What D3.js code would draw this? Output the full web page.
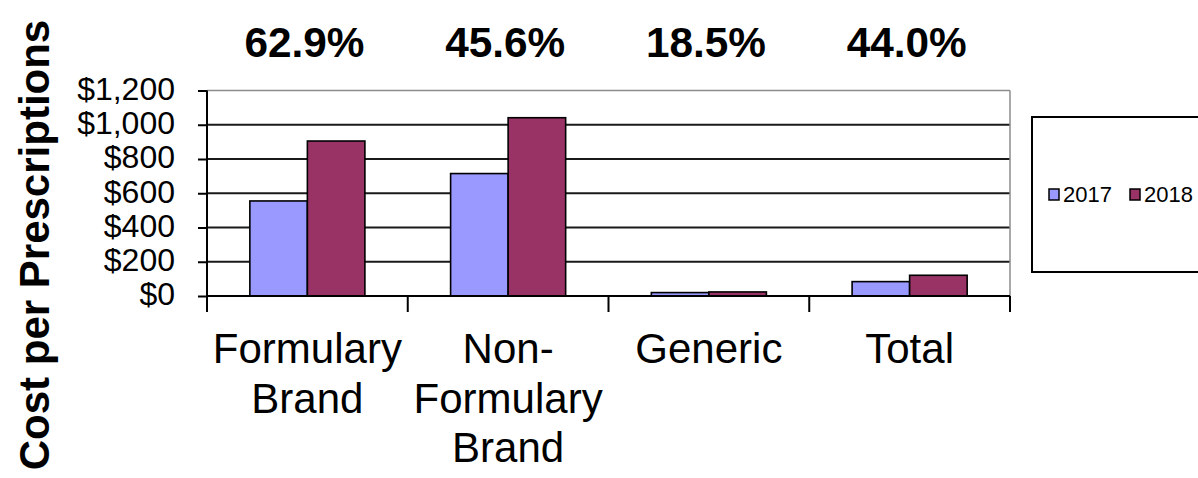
<!DOCTYPE html>
<html><head><meta charset="utf-8">
<script src="https://cdn.jsdelivr.net/npm/d3@7"></script>
<style>html,body{margin:0;padding:0;background:#fff;} svg{display:block;font-family:"Liberation Sans",Arial,sans-serif;}</style>
</head><body>
<svg id="c" width="1198" height="478"></svg>
<script>
const categories = [["Formulary","Brand"],["Non-","Formulary","Brand"],["Generic"],["Total"]];
const categoryKeys = ["Formulary Brand","Non-Formulary Brand","Generic","Total"];
const series = ["2017","2018"];
const values2017 = [555, 715, 20, 84];
const values2018 = [905, 1041, 23.7, 121];
const pctLabels = ["62.9%","45.6%","18.5%","44.0%"];
const yTicks = [0,200,400,600,800,1000,1200];
const colors = ["#9999FF","#993366"];
const yTitle = "Cost per Prescriptions";

const svg = d3.select("#c");
const L=207, R=1010, T=90.5, B=296;
const x0 = d3.scaleBand().domain(categoryKeys).range([L,R]);
const x1 = d3.scaleBand().domain(series).range([0,x0.bandwidth()]).paddingInner(0).paddingOuter(0.745);
const y = d3.scaleLinear().domain([0,1200]).range([B,T]);
const fmt = v => "$" + d3.format(",")(v);

// gridlines
svg.append("g").selectAll("line").data(yTicks.filter(v=>v>0 && v<1200)).join("line")
  .attr("x1",L).attr("x2",R).attr("y1",d=>y(d)).attr("y2",d=>y(d))
  .attr("stroke","#1a1a1a").attr("stroke-width",2);
// plot border top/right (gray)
svg.append("line").attr("x1",L).attr("x2",R).attr("y1",y(1200)).attr("y2",y(1200)).attr("stroke","#8c8c8c").attr("stroke-width",1.5);
svg.append("line").attr("x1",R).attr("x2",R).attr("y1",y(1200)).attr("y2",B).attr("stroke","#8c8c8c").attr("stroke-width",1.5);

// bars
const data = categoryKeys.map((c,i)=>({c, vals:[values2017[i],values2018[i]]}));
const g = svg.append("g");
data.forEach(d=>{
  d.vals.forEach((v,j)=>{
    g.append("rect").attr("x",x0(d.c)+x1(series[j])).attr("width",x1.bandwidth())
     .attr("y",y(v)).attr("height",B-y(v)).attr("fill",colors[j])
     .attr("stroke","#000").attr("stroke-width",1.6);
  });
});

// y axis
const yAxis = d3.axisLeft(y).tickValues(yTicks).tickFormat(fmt).tickSize(9).tickPadding(23);
const ya = svg.append("g").attr("transform",`translate(${L},0)`).call(yAxis);
ya.select(".domain").attr("stroke","#000").attr("stroke-width",2).attr("d",`M0,${y(1200)}V${B}`);
ya.selectAll(".tick line").attr("stroke","#000").attr("stroke-width",2);
ya.selectAll(".tick text").attr("font-size",32).attr("font-family","Liberation Sans, Arial").attr("fill","#000").attr("dy","0.28em");

// x axis
const xa = svg.append("g").attr("transform",`translate(0,${B})`);
xa.append("line").attr("x1",L).attr("x2",R).attr("stroke","#000").attr("stroke-width",2);
const bounds = categoryKeys.map(c=>x0(c)).concat([R]);
xa.selectAll(".tk").data(bounds).join("line").attr("x1",d=>d).attr("x2",d=>d).attr("y1",0).attr("y2",16).attr("stroke","#000").attr("stroke-width",2);
categoryKeys.forEach((c,i)=>{
  const t = xa.append("text").attr("x",x0(c)+x0.bandwidth()/2).attr("y",67).attr("text-anchor","middle")
    .attr("font-size",42).attr("fill","#000");
  categories[i].forEach((line,k)=>{
    t.append("tspan").attr("x",x0(c)+x0.bandwidth()/2).attr("dy",k===0?0:49.5).text(line);
  });
});

// percentage labels
svg.append("g").selectAll("text").data(pctLabels).join("text")
  .attr("x",(d,i)=>x0(categoryKeys[i])+x0.bandwidth()/2-3).attr("y",57)
  .attr("text-anchor","middle").attr("font-size",43).attr("font-weight","bold").attr("fill","#000")
  .attr("textLength",120).attr("lengthAdjust","spacingAndGlyphs")
  .text(d=>d);

// y title
svg.append("text").attr("transform","translate(49,245) rotate(-90)").attr("text-anchor","middle")
  .attr("font-size",42).attr("font-weight","bold").attr("fill","#000").text(yTitle);

// legend
const lg = svg.append("g");
lg.append("rect").attr("x",1032).attr("y",117).attr("width",200).attr("height",155)
  .attr("fill","#fff").attr("stroke","#000").attr("stroke-width",2);
const legX = [1049,1130];
series.forEach((s,j)=>{
  lg.append("rect").attr("x",legX[j]).attr("y",189).attr("width",10).attr("height",11)
    .attr("fill",colors[j]).attr("stroke","#000").attr("stroke-width",1.5);
  lg.append("text").attr("x",legX[j]+14).attr("y",202).attr("font-size",22).attr("fill","#000").text(s);
});
</script>
</body></html>
